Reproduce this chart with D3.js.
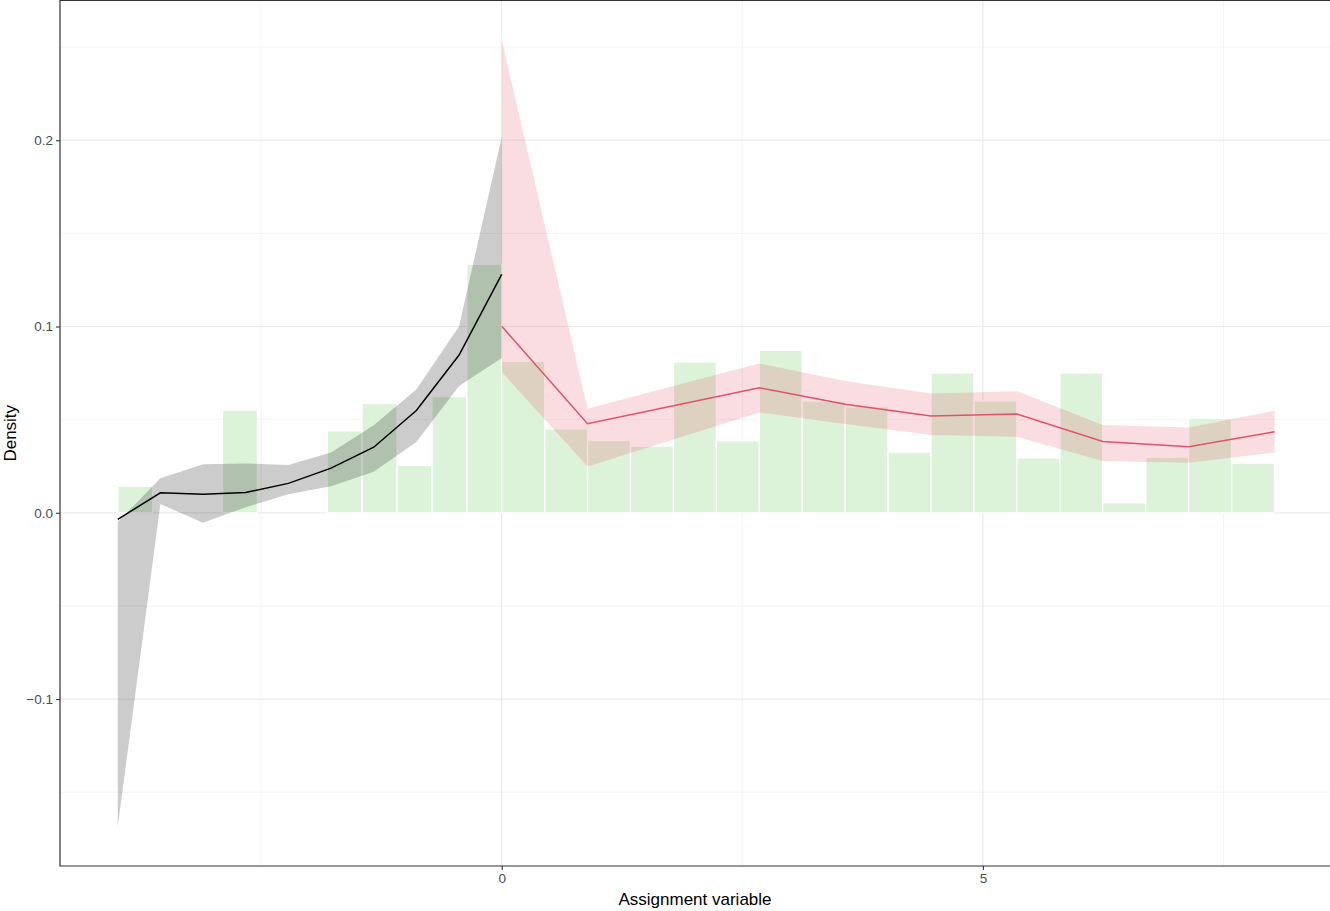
<!DOCTYPE html>
<html>
<head>
<meta charset="utf-8">
<script src="https://cdn.jsdelivr.net/npm/d3@7"></script>
<style>
  body { margin: 0; background: #fff; }
  text { font-family: "Liberation Sans", Arial, sans-serif; }
</style>
</head>
<body>
<div id="chart"></div>
<script>
// Histogram densities (left of cutoff: 11 bins, right: 18 bins)
const leftRange = [-3.99, 0];
const rightRange = [0, 8.03];
const leftBins = [0.0143, 0, 0, 0.0551, 0, 0, 0.044, 0.0587, 0.0254, 0.0624, 0.1334];
const rightBins = [0.0813, 0.0451, 0.0388, 0.0358, 0.081, 0.0387, 0.0872, 0.060, 0.0569,
  0.0326, 0.0751, 0.060, 0.0295, 0.0751, 0.0054, 0.0299, 0.0508, 0.0267];

// Fitted density (left side) with band
const leftX = [-3.99, -3.547, -3.103, -2.66, -2.217, -1.773, -1.33, -0.887, -0.443, 0];
const leftFit = [-0.0035, 0.0107, 0.0099, 0.0109, 0.0158, 0.0240, 0.0352, 0.0549, 0.0847, 0.128];
const leftUpper = [-0.005, 0.0185, 0.026, 0.0265, 0.0256, 0.0324, 0.047, 0.0662, 0.1001, 0.2018];
const leftLower = [-0.1686, 0.0047, -0.0054, 0.003, 0.0099, 0.0143, 0.022, 0.038, 0.0681, 0.0831];

// Fitted density (right side) with band
const rightX = [0, 0.892, 1.784, 2.677, 3.569, 4.461, 5.353, 6.246, 7.138, 8.03];
const rightFit = [0.1001, 0.0478, 0.0575, 0.0671, 0.0583, 0.0519, 0.053, 0.0383, 0.0354, 0.0435];
const rightUpper = [0.2537, 0.0559, 0.068, 0.0802, 0.0707, 0.0641, 0.0653, 0.0471, 0.0458, 0.0548];
const rightLower = [0.0756, 0.0248, 0.0394, 0.0539, 0.0476, 0.0417, 0.0408, 0.0278, 0.0268, 0.0324];

const xTicks = [0, 5];
const xMinor = [-2.5, 2.5, 7.5];
const yTicks = [-0.1, 0, 0.1, 0.2];
const yMinor = [-0.15, -0.05, 0.05, 0.15, 0.25];

const W = 1330, H = 911;
const panel = { left: 60, right: 1330, top: 0.5, bottom: 866 };

const svg = d3.select("#chart")
  .append("svg")
  .attr("width", W)
  .attr("height", H);

const x = d3.scaleLinear().domain([-4.59, 8.607]).range([panel.left, panel.right]);
const y = d3.scaleLinear().domain([-0.1896, 0.2750]).range([panel.bottom, panel.top]);

// grid
const grid = svg.append("g");
xMinor.forEach(v => grid.append("line")
  .attr("x1", x(v)).attr("x2", x(v)).attr("y1", panel.top).attr("y2", panel.bottom)
  .attr("stroke", "#ebebeb").attr("stroke-width", 0.6));
yMinor.forEach(v => grid.append("line")
  .attr("x1", panel.left).attr("x2", panel.right).attr("y1", y(v)).attr("y2", y(v))
  .attr("stroke", "#ebebeb").attr("stroke-width", 0.6));
xTicks.forEach(v => grid.append("line")
  .attr("x1", x(v)).attr("x2", x(v)).attr("y1", panel.top).attr("y2", panel.bottom)
  .attr("stroke", "#ebebeb").attr("stroke-width", 1.2));
yTicks.forEach(v => grid.append("line")
  .attr("x1", panel.left).attr("x2", panel.right).attr("y1", y(v)).attr("y2", y(v))
  .attr("stroke", "#ebebeb").attr("stroke-width", 1.2));

// histogram bars
const bins = [];
const lw = (leftRange[1] - leftRange[0]) / leftBins.length;
const rw = (rightRange[1] - rightRange[0]) / rightBins.length;
leftBins.forEach((d, i) => bins.push({ x0: leftRange[0] + i * lw, x1: leftRange[0] + (i + 1) * lw, v: d }));
rightBins.forEach((d, i) => bins.push({ x0: rightRange[0] + i * rw, x1: rightRange[0] + (i + 1) * rw, v: d }));

svg.append("g").selectAll("rect")
  .data(bins.filter(d => d.v > 0))
  .join("rect")
  .attr("x", d => x(d.x0))
  .attr("width", d => x(d.x1) - x(d.x0))
  .attr("y", d => y(d.v))
  .attr("height", d => y(0) - y(d.v))
  .attr("fill", "#dcf2d9")
  .attr("stroke", "#fff")
  .attr("stroke-width", 1.4);

// ribbons and lines
const area = d3.area().x(d => x(d.x)).y0(d => y(d.lo)).y1(d => y(d.hi));
const line = d3.line().x(d => x(d.x)).y(d => y(d.fit));

const leftData = leftX.map((v, i) => ({ x: v, fit: leftFit[i], lo: leftLower[i], hi: leftUpper[i] }));
const rightData = rightX.map((v, i) => ({ x: v, fit: rightFit[i], lo: rightLower[i], hi: rightUpper[i] }));

svg.append("path").datum(leftData).attr("d", area)
  .attr("fill", "#000").attr("fill-opacity", 0.2);
svg.append("path").datum(rightData).attr("d", area)
  .attr("fill", "#df536b").attr("fill-opacity", 0.2);
svg.append("path").datum(leftData).attr("d", line)
  .attr("fill", "none").attr("stroke", "#000").attr("stroke-width", 1.5);
svg.append("path").datum(rightData).attr("d", line)
  .attr("fill", "none").attr("stroke", "#df536b").attr("stroke-width", 1.5);

// panel border (top, left, bottom)
svg.append("path")
  .attr("d", `M${panel.right},${panel.top}H${panel.left}V${panel.bottom}H${panel.right}`)
  .attr("fill", "none").attr("stroke", "#333").attr("stroke-width", 1.2);

// axes
const yAxis = svg.append("g")
  .attr("transform", `translate(${panel.left},0)`)
  .call(d3.axisLeft(y).tickValues(yTicks).tickFormat(d3.format(".1f")).tickSize(4).tickPadding(3));
const xAxis = svg.append("g")
  .attr("transform", `translate(0,${panel.bottom})`)
  .call(d3.axisBottom(x).tickValues(xTicks).tickFormat(d3.format("d")).tickSize(4).tickPadding(3));

[yAxis, xAxis].forEach(a => {
  a.select(".domain").remove();
  a.selectAll(".tick line").attr("stroke", "#333").attr("stroke-width", 1.1);
  a.selectAll(".tick text").attr("fill", "#4d4d4d").style("font-size", "13.5px")
    .style("font-family", "'Liberation Sans', Arial, sans-serif");
});

svg.append("text")
  .attr("x", (panel.left + panel.right) / 2)
  .attr("y", 905)
  .attr("text-anchor", "middle")
  .style("font-size", "17px")
  .text("Assignment variable");

svg.append("text")
  .attr("transform", `translate(16,${(panel.top + panel.bottom) / 2}) rotate(-90)`)
  .attr("text-anchor", "middle")
  .style("font-size", "17px")
  .text("Density");
</script>
</body>
</html>
